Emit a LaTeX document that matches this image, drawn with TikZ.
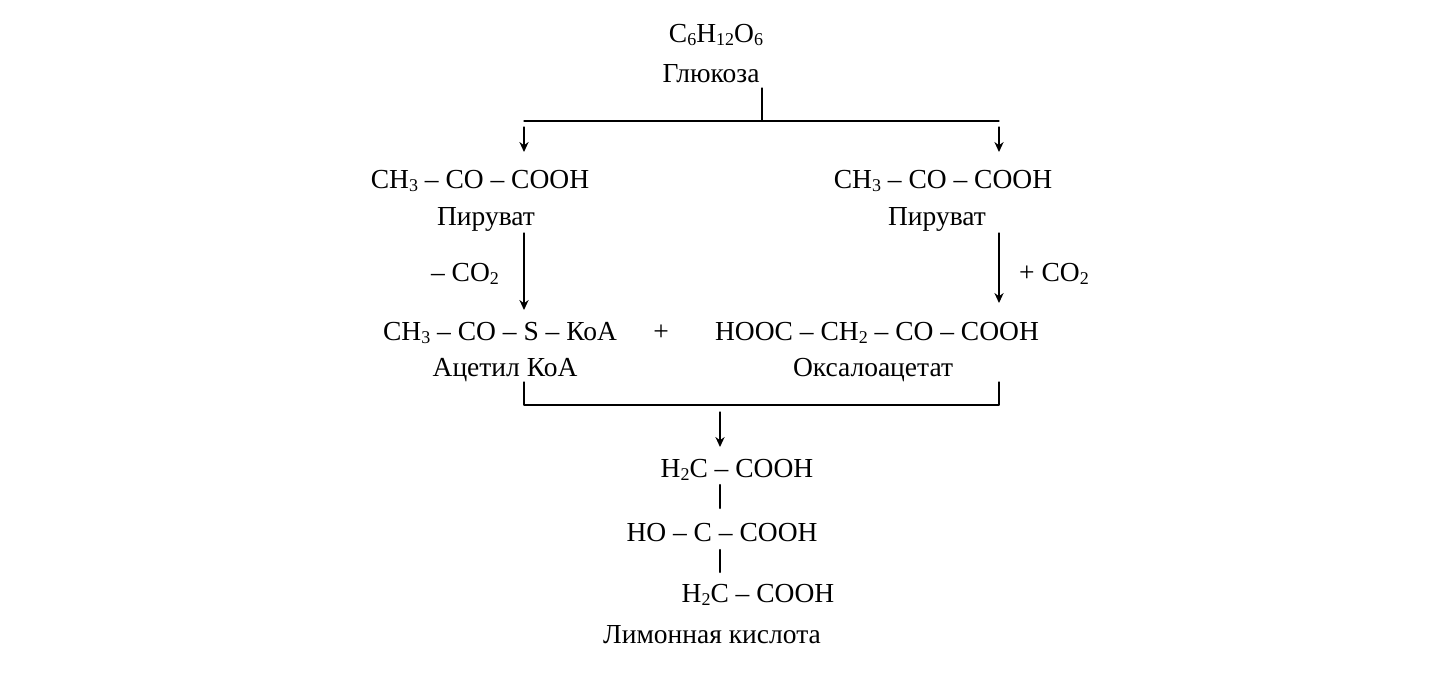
\documentclass[tikz,border=0pt]{standalone}
\usepackage{fontspec}
\setmainfont{Liberation Serif}
\usetikzlibrary{arrows.meta}
\newcommand{\sub}[1]{{\fontsize{9}{9}\selectfont\raisebox{-0.3ex}{#1}}}
\tikzset{txt/.style={yshift=-1.5pt}, bond/.style={line width=1.1pt}}
\begin{document}
\begin{tikzpicture}[x=0.5pt,y=-0.5pt,>={Stealth[length=5pt,width=4.6pt]},line join=round,line cap=round,font=\fontsize{13.75}{16}\selectfont,line width=0.6pt]
            \useasboundingbox (0,0) rectangle (1433,673);
            % glucose and fork
            \node[txt] (glu) at (716,32) {C\sub6H\sub{12}O\sub6};
            \node[txt] (gluname) at (711,71) {Глюкоза};
            \coordinate (gluB) at (762,88);
            \coordinate (fork) at (762,121);
            \coordinate (forkL) at (524,121);
            \coordinate (forkR) at (999,121);
            \coordinate (pyrLt) at (524,127);
            \coordinate (pyrLb) at (524,152);
            \coordinate (pyrRt) at (999,127);
            \coordinate (pyrRb) at (999,152);
            \draw (gluB)--(fork);
            \draw (forkL)--(forkR);
            \draw[->] (pyrLt)--(pyrLb);
            \draw[->] (pyrRt)--(pyrRb);
            % pyruvate
            \node[txt] (pyrL) at (480,178) {CH\sub3 – CO – COOH};
            \node[txt] (pyrLname) at (486,216) {Пируват};
            \node[txt] (pyrR) at (943,178) {CH\sub3 – CO – COOH};
            \node[txt] (pyrRname) at (937,216) {Пируват};
            \coordinate (acT) at (524,233);
            \coordinate (acB) at (524,310);
            \coordinate (oxT) at (999,233);
            \coordinate (oxB) at (999,303);
            \draw[->] (acT)--(acB);
            \draw[->] (oxT)--(oxB);
            \node[txt] (minus) at (465,271) {– CO\sub2};
            \node[txt] (plus) at (1054,271) {+ CO\sub2};
            % acetyl CoA + oxaloacetate
            \node[txt] (ac) at (500,330) {CH\sub3 – CO – S – КоА};
            \node[txt] (sum) at (661,330) {+};
            \node[txt] (ox) at (877,330) {HOOC – CH\sub2 – CO – COOH};
            \node[txt] (acname) at (505,367) {Ацетил КоА};
            \node[txt] (oxname) at (873,367) {Оксалоацетат};
            \coordinate (brL) at (524,382);
            \coordinate (brLb) at (524,405);
            \coordinate (brR) at (999,382);
            \coordinate (brRb) at (999,405);
            \draw (brL)--(brLb)--(brRb)--(brR);
            \coordinate (citT) at (720,412);
            \coordinate (citB) at (720,447);
            \draw[->] (citT)--(citB);
            % citric acid
            \node[txt] (c1) at (737,467) {H\sub2C – COOH};
            \node[txt] (c2) at (722,530) {HO – C – COOH};
            \node[txt] (c3) at (758,592) {H\sub2C – COOH};
            \node[txt] (citname) at (712,632) {Лимонная кислота};
            \coordinate (b1T) at (720,485);
            \coordinate (b1B) at (720,508);
            \coordinate (b2T) at (720,550);
            \coordinate (b2B) at (720,572);
            \draw[bond] (b1T)--(b1B);
            \draw[bond] (b2T)--(b2B);
    \end{tikzpicture}
\end{document}
